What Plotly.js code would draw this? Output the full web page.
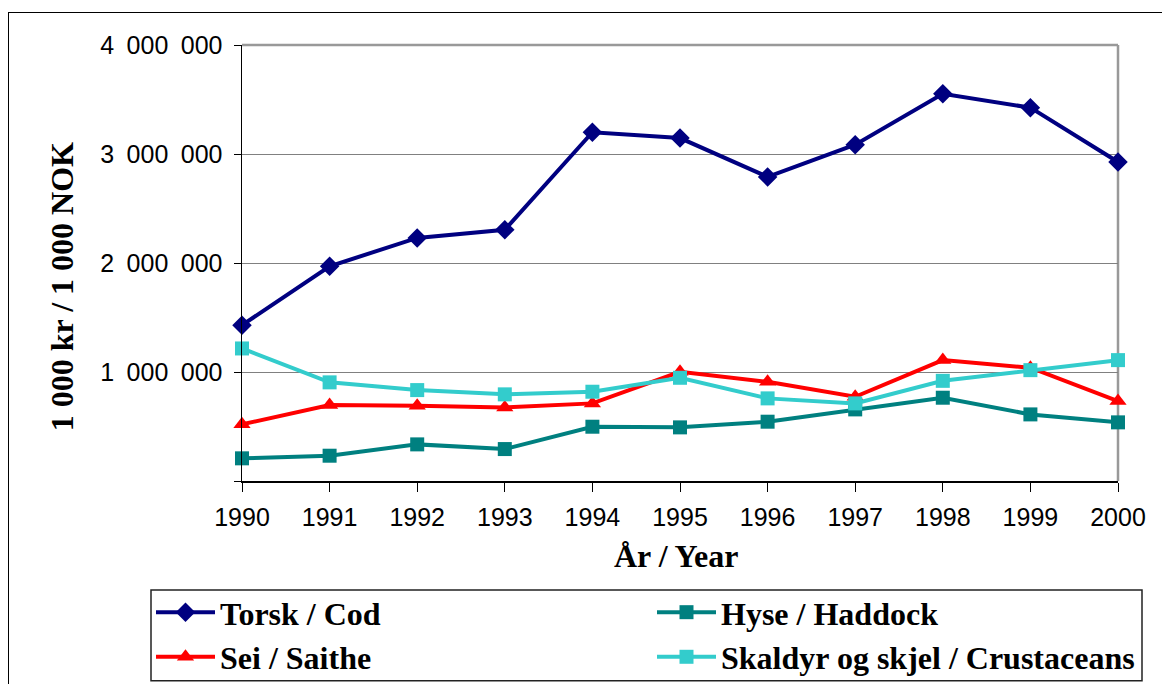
<!DOCTYPE html>
<html>
<head>
<meta charset="utf-8">
<script src="https://cdn.plot.ly/plotly-3.0.1.min.js"></script>
<style>
  html, body { margin: 0; padding: 0; background: #fff; overflow: hidden; }
  #chart { position: absolute; left: 0; top: 0; width: 1162px; height: 684px; }
  #frame { position: absolute; left: 8px; top: 12px; width: 1170px; height: 700px;
           border: 1.5px solid #000; pointer-events: none; box-sizing: border-box; }
</style>
</head>
<body>
<div id="chart"></div>
<div id="frame"></div>
<script>
const years = [1990, 1991, 1992, 1993, 1994, 1995, 1996, 1997, 1998, 1999, 2000];
const cod = [1430000, 1970000, 2230000, 2305000, 3200000, 3146000, 2790000, 3086000, 3553000, 3425000, 2927000];
const haddock = [208000, 232000, 336000, 293000, 498000, 492000, 544000, 657000, 764000, 611000, 538000];
const saithe = [520000, 697000, 690000, 675000, 712000, 1002000, 910000, 773000, 1109000, 1039000, 733000];
const crustaceans = [1216000, 905000, 834000, 795000, 819000, 947000, 758000, 712000, 919000, 1017000, 1109000];
const seriesNames = ['Torsk / Cod', 'Hyse / Haddock', 'Sei / Saithe', 'Skaldyr og skjel / Crustaceans'];
const yTickVals = [0, 1000000, 2000000, 3000000, 4000000];
const yTickText = ['', '1\u2002000\u2002000', '2\u2002000\u2002000', '3\u2002000\u2002000', '4\u2002000\u2002000'];
const xTitle = 'År / Year';
const yTitle = '1 000 kr / 1 000 NOK';

function tr(name, y, color, symbol, size) {
  return {
    x: years, y: y, name: name, type: 'scatter', mode: 'lines+markers',
    cliponaxis: false,
    line: {color: color, width: 4},
    marker: {color: color, symbol: symbol, size: size}
  };
}
const data = [
  tr(seriesNames[0], cod, '#000080', 'diamond', 15),
  tr(seriesNames[1], haddock, '#008080', 'square', 14),
  tr(seriesNames[2], saithe, '#FF0000', 'triangle-up', 15),
  tr(seriesNames[3], crustaceans, '#33CCCC', 'square', 14)
];

const L = 242, T = 44.5, W = 876, H = 436.5;
const px = v => (v - L) / W;
const py = v => (T + H - v) / H;
const layout = {
  width: 1162, height: 684,
  margin: {l: L, r: 1162 - L - W, t: T, b: 684 - T - H, autoexpand: false},
  paper_bgcolor: 'rgba(0,0,0,0)', plot_bgcolor: '#fff',
  font: {family: 'Liberation Sans, Arial, sans-serif', color: '#000'},
  showlegend: true,
  xaxis: {
    range: [1990, 2000], tickvals: years, ticktext: years.map(String),
    showgrid: false, zeroline: false, automargin: false,
    showline: true, linecolor: '#000', linewidth: 1.5,
    ticks: 'outside', ticklen: 9, tickwidth: 1, tickcolor: '#000',
    ticklabelstandoff: 4,
    tickfont: {size: 25, family: 'Liberation Sans, Arial, sans-serif'}
  },
  yaxis: {
    range: [0, 4000000], tickvals: yTickVals, ticktext: yTickText,
    showgrid: true, gridcolor: '#808080', gridwidth: 1, zeroline: false, automargin: false,
    showline: true, linecolor: '#000', linewidth: 1.5,
    ticks: 'outside', ticklen: 7, tickwidth: 1, tickcolor: '#000',
    ticklabelstandoff: 6,
    tickfont: {size: 25, family: 'Liberation Sans, Arial, sans-serif'}
  },
  shapes: [
    {type: 'line', xref: 'paper', yref: 'paper', x0: 0, x1: 1, y0: 1, y1: 1,
     line: {color: '#999', width: 2.5}, layer: 'below'},
    {type: 'line', xref: 'paper', yref: 'paper', x0: 1, x1: 1, y0: 0, y1: 1,
     line: {color: '#999', width: 2.5}, layer: 'below'},
    {type: 'rect', xref: 'paper', yref: 'paper', x0: px(151), x1: px(1142), y0: py(590), y1: py(681),
     line: {color: '#222', width: 1.5}, fillcolor: 'rgba(0,0,0,0)', layer: 'above'}
  ],
  annotations: [
    {text: '<b>' + xTitle + '</b>', xref: 'paper', yref: 'paper',
     x: px(676), y: py(556), showarrow: false,
     xanchor: 'center', yanchor: 'middle',
     font: {family: 'Liberation Serif, Times New Roman, serif', size: 32, color: '#000'}},
    {text: '<b>' + yTitle + '</b>', xref: 'paper', yref: 'paper',
     x: px(62), y: py(287), showarrow: false, textangle: -90,
     xanchor: 'center', yanchor: 'middle',
     font: {family: 'Liberation Serif, Times New Roman, serif', size: 32, color: '#000'}}
  ],
  legend: {
    orientation: 'h', x: px(151), y: py(585),
    xanchor: 'left', yanchor: 'top',
    borderwidth: 0, bgcolor: 'rgba(0,0,0,0)',
    entrywidth: 427, entrywidthmode: 'pixels', itemwidth: 59,
    traceorder: 'normal',
    font: {family: 'Liberation Serif, Times New Roman, serif', size: 32, color: '#000', weight: 'bold'}
  }
};

Plotly.newPlot('chart', data, layout, {displayModeBar: false, staticPlot: true});
</script>
</body>
</html>
